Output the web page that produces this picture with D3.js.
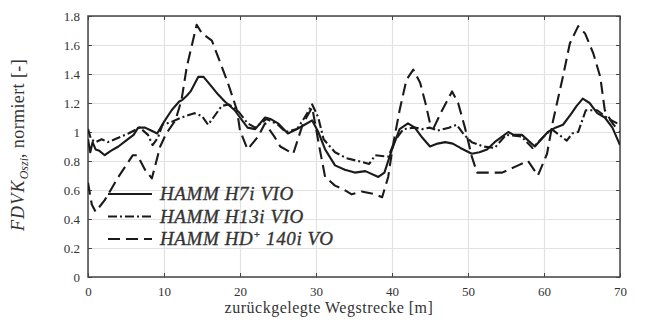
<!DOCTYPE html>
<html>
<head>
<meta charset="utf-8">
<script src="https://cdn.jsdelivr.net/npm/d3@7"></script>
<style>
  body { margin: 0; background: #fff; }
  svg { display: block; }
  .tick text { font-family: "Liberation Serif", "DejaVu Serif", serif; font-size: 13px; fill: #333; }
</style>
</head>
<body>
<div id="chart"></div>
<script>
// distances [m] and normalised values
var h7iX = [0,0.3,0.6,1,1.5,2.2,3,4,5,6,6.6,7.5,8.3,9.1,10,11,12,12.4,13,13.5,14.5,15.2,16,17.1,18,19.3,20,21,22,23.3,24,25,26.3,27.5,28.5,29.5,30.3,31.2,32.5,33.8,35.1,36.5,38.2,39,40,41,42.1,43,44,45,46,47,48,49,50.5,51.5,52.5,53.5,55.3,56,57.1,58.8,60.5,61.5,62.5,63.5,64.3,65.1,66,67,68,69,70];
var h7iY = [0.95,0.86,0.93,0.88,0.87,0.84,0.87,0.9,0.94,0.98,1.03,1.03,1.01,0.99,1.07,1.15,1.21,1.22,1.25,1.28,1.38,1.38,1.33,1.26,1.21,1.15,1.1,1.03,1.02,1.1,1.09,1.06,0.99,1.02,1.05,1.08,1.0,0.88,0.77,0.74,0.72,0.73,0.69,0.72,0.88,1.02,1.06,1.03,0.96,0.9,0.92,0.93,0.92,0.89,0.85,0.86,0.88,0.93,1.0,0.98,0.98,0.9,1.0,1.03,1.05,1.12,1.18,1.23,1.2,1.13,1.1,1.03,0.91];

var h13iX = [0,0.4,1,1.8,2.6,4,5.3,6.8,7.9,8.5,9.2,9.8,11,12.3,14,15,15.8,16.5,17.6,18.5,19.5,21,22,23.5,25,26,27.5,28.5,29.5,30.3,31,32.5,34,35.5,37,37.8,39.5,40.5,41.5,43,44,45,46,47.5,48.5,49.5,50.5,52,53.5,55,57,58.5,60,61,62,63,63.7,64.5,65.5,67,68.5,70];
var h13iY = [1.02,0.95,0.93,0.95,0.93,0.96,0.99,1.03,0.98,0.91,0.96,1.05,1.07,1.1,1.13,1.11,1.05,1.1,1.18,1.19,1.16,1.06,1.03,1.09,1.05,1.0,1.02,1.1,1.19,1.1,0.95,0.86,0.82,0.8,0.78,0.84,0.83,0.95,1.02,1.03,1.02,1.03,1.01,1.03,1.05,0.98,0.93,0.9,0.89,0.98,0.97,0.89,0.97,1.02,0.98,0.94,0.99,1.0,1.15,1.15,1.09,1.05];

var hd140iX = [0,0.5,1,2.2,4,5.9,6.5,7.5,8.4,9.5,10.3,11.5,12.3,13,14.3,15,16.3,17.1,18.4,19.6,20,21,22.4,23.3,24.5,25.3,27,28.3,29.5,30.5,31.2,32.5,33.4,34.7,36,37.8,38.7,39.5,40.1,41,41.9,42.8,43.7,44.4,45,45.5,46.6,47.9,48.7,49.6,50.5,51.2,52.2,54.5,56.6,57.9,59.2,60.4,61.2,62.4,63.4,64.5,65.4,66.5,67.4,68,69,70];
var hd140iY = [0.65,0.5,0.45,0.53,0.69,0.84,0.84,0.74,0.68,0.9,0.99,1.08,1.22,1.45,1.74,1.68,1.63,1.52,1.34,1.15,1.01,0.88,0.97,1.06,0.97,0.9,0.85,1.06,1.17,0.88,0.69,0.63,0.61,0.57,0.59,0.57,0.55,0.69,0.9,1.15,1.36,1.43,1.34,1.2,1.06,1.03,1.15,1.28,1.2,1.03,0.83,0.72,0.72,0.72,0.77,0.8,0.7,0.85,1.08,1.36,1.61,1.73,1.68,1.54,1.38,1.15,1.06,1.0];

var xTicks = [0,10,20,30,40,50,60,70];
var yTicks = [0,0.2,0.4,0.6,0.8,1,1.2,1.4,1.6,1.8];
var seriesNames = ["HAMM H7i VIO", "HAMM H13i VIO", "HAMM HD+ 140i VO"];
var dashes = [null, "9,3,2,3", "12,6"];

var svgWidth = 652, svgHeight = 322;
var margin = { top: 16, right: 32, bottom: 45, left: 88 };
var width = svgWidth - margin.left - margin.right;
var height = svgHeight - margin.top - margin.bottom;

var x = d3.scaleLinear().domain([0, 70]).range([0, width]);
var y = d3.scaleLinear().domain([0, 1.8]).range([height, 0]);

var svg = d3.select("#chart").append("svg")
  .attr("width", svgWidth)
  .attr("height", svgHeight);

var g = svg.append("g")
  .attr("transform", "translate(" + margin.left + "," + margin.top + ")");

// grid
g.append("g")
  .attr("class", "grid")
  .attr("transform", "translate(0," + height + ")")
  .call(d3.axisBottom(x).tickValues(xTicks).tickSize(-height).tickFormat(""));
g.append("g")
  .attr("class", "grid")
  .call(d3.axisLeft(y).tickValues(yTicks).tickSize(-width).tickFormat(""));
g.selectAll(".grid .domain").remove();
g.selectAll(".grid line").attr("stroke", "#e2e2e2").attr("stroke-width", 1.2);

// axes with inward ticks
g.append("g")
  .attr("class", "axis")
  .attr("transform", "translate(0," + height + ")")
  .call(d3.axisBottom(x).tickValues(xTicks).tickSizeInner(-4).tickSizeOuter(0).tickPadding(10).tickFormat(d3.format("d")));
g.append("g")
  .attr("class", "axis")
  .call(d3.axisLeft(y).tickValues(yTicks).tickSizeInner(-4).tickSizeOuter(0).tickPadding(8)
    .tickFormat(d => d === 0 || d === 1 ? String(d) : d3.format(".1f")(d)));
g.append("g")
  .attr("class", "axis")
  .call(d3.axisTop(x).tickValues(xTicks).tickSizeInner(-4).tickSizeOuter(0).tickFormat(""));
g.append("g")
  .attr("class", "axis")
  .attr("transform", "translate(" + width + ",0)")
  .call(d3.axisRight(y).tickValues(yTicks).tickSizeInner(-4).tickSizeOuter(0).tickFormat(""));
g.selectAll(".axis .domain").remove();
g.selectAll(".axis .tick line").attr("stroke", "#444");

// frame
g.append("rect")
  .attr("width", width)
  .attr("height", height)
  .attr("fill", "none")
  .attr("stroke", "#444")
  .attr("stroke-width", 1.5);

// lines
var line = d3.line()
  .x(d => x(d[0]))
  .y(d => y(d[1]));

var series = [
  d3.zip(h7iX, h7iY),
  d3.zip(h13iX, h13iY),
  d3.zip(hd140iX, hd140iY)
];

g.append("defs").append("clipPath").attr("id", "clip")
  .append("rect").attr("width", width).attr("height", height);

series.forEach(function(s, i) {
  g.append("path")
    .datum(s)
    .attr("clip-path", "url(#clip)")
    .attr("fill", "none")
    .attr("stroke", "#1a1a1a")
    .attr("stroke-width", 2.1)
    .attr("stroke-linejoin", "round")
    .attr("stroke-dasharray", dashes[i])
    .attr("d", line);
});

// legend
var legend = g.append("g").attr("transform", "translate(20," + (height - 83) + ")");
seriesNames.forEach(function(name, i) {
  var row = legend.append("g").attr("transform", "translate(0," + (i * 22.5) + ")");
  row.append("line")
    .attr("x1", 0).attr("x2", 44)
    .attr("stroke", "#1a1a1a")
    .attr("stroke-width", 2.1)
    .attr("stroke-dasharray", dashes[i]);
  var t = row.append("text")
    .attr("x", 52)
    .attr("y", 6)
    .attr("font-family", "Liberation Serif, DejaVu Serif, serif")
    .attr("font-style", "italic")
    .attr("font-size", 19)
    .attr("letter-spacing", 0.6)
    .attr("stroke", "#333")
    .attr("stroke-width", 0.35)
    .attr("fill", "#333");
  if (i === 2) {
    t.append("tspan").text("HAMM HD");
    t.append("tspan").attr("font-size", 10).attr("dy", -7).text("+");
    t.append("tspan").attr("dy", 7).text("  140i VO");
  } else {
    t.text(name);
  }
});

// axis labels
svg.append("text")
  .attr("x", 329)
  .attr("y", 313)
  .attr("text-anchor", "middle")
  .attr("font-family", "Liberation Serif, DejaVu Serif, serif")
  .attr("font-size", 16)
  .attr("letter-spacing", 0.5)
  .attr("fill", "#333")
  .text("zurückgelegte Wegstrecke [m]");

var yl = svg.append("text")
  .attr("transform", "translate(24,145) rotate(-90)")
  .attr("text-anchor", "middle")
  .attr("font-family", "Liberation Serif, DejaVu Serif, serif")
  .attr("font-size", 18)
  .attr("fill", "#333");
yl.append("tspan").attr("font-style", "italic").attr("letter-spacing", 1.2).text("FDVK");
yl.append("tspan").attr("font-style", "italic").attr("font-size", 12).attr("dy", 4).text("Oszi");
yl.append("tspan").attr("dy", -4).attr("letter-spacing", 0.4).text(", normiert [-]");
</script>
</body>
</html>
